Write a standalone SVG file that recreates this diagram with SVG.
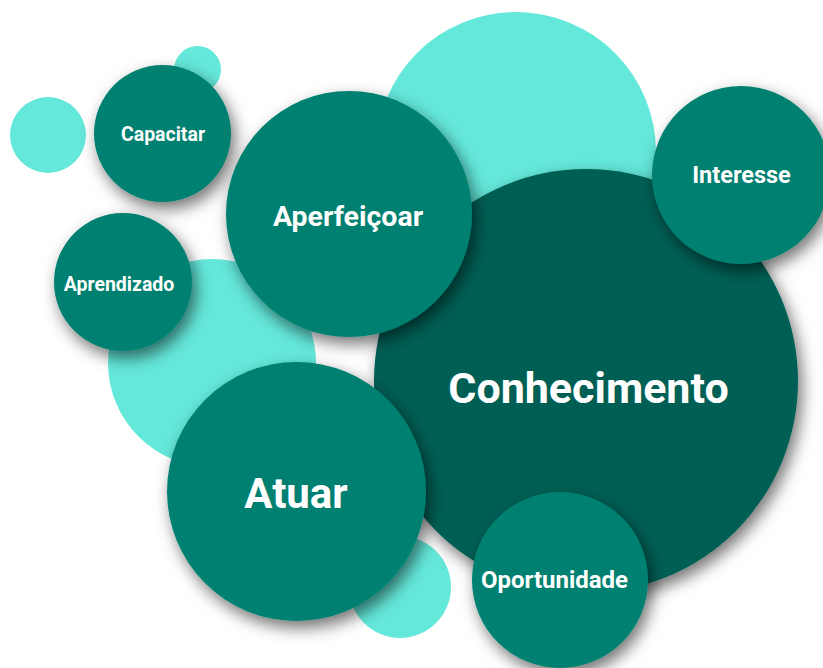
<svg xmlns="http://www.w3.org/2000/svg" width="823" height="668" viewBox="0 0 823 668">
<defs>
<filter id="sh" x="-30%" y="-30%" width="160%" height="160%">
<feDropShadow dx="4" dy="7" stdDeviation="8" flood-color="#000" flood-opacity="0.55"/>
</filter>
<style>
.lt{fill:#64E8DA}
.md{fill:#00806F;filter:url(#sh)}
.dk{fill:#005F55;filter:url(#sh)}
text{font-family:Roboto,"Liberation Sans",sans-serif;font-weight:bold;fill:#fff;text-anchor:middle}
</style>
</defs>
<rect width="823" height="668" fill="#fff"/>
<g id="bg-circles">
<circle class="lt" cx="48" cy="135" r="38"/>
<circle class="lt" cx="197.5" cy="69.5" r="23.5"/>
<circle class="lt" cx="516" cy="152" r="140"/>
<circle class="lt" cx="212" cy="363" r="104"/>
<circle class="lt" cx="400" cy="587" r="51"/>
</g>
<g id="capacitar"><circle class="md" cx="162.5" cy="133.5" r="68.5"/><text x="163" y="141" font-size="19.5">Capacitar</text></g>
<g id="aprendizado"><circle class="md" cx="123" cy="282" r="69"/><text x="119" y="291" font-size="19.5">Aprendizado</text></g>
<g id="conhecimento"><circle class="dk" cx="586" cy="381" r="212"/><text x="588.5" y="403" font-size="43">Conhecimento</text></g>
<g id="aperfeicoar"><circle class="md" cx="349" cy="214" r="123"/><text x="348" y="226" font-size="28.5">Aperfeiçoar</text></g>
<g id="interesse"><circle class="md" cx="741" cy="175" r="89"/><text x="741.5" y="183" font-size="23.5">Interesse</text></g>
<g id="atuar"><circle class="md" cx="296.5" cy="491.5" r="129.5"/><text x="296" y="508" font-size="42">Atuar</text></g>
<g id="oportunidade"><circle class="md" cx="560" cy="580" r="88"/><text x="554.5" y="588" font-size="24">Oportunidade</text></g>
<g id="connectors"/>
</svg>
